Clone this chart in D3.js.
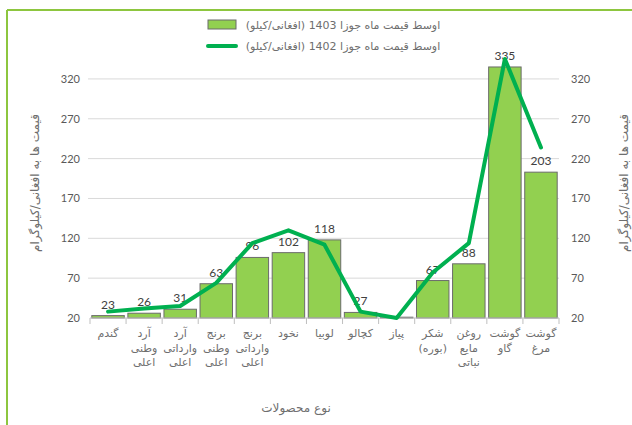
<!DOCTYPE html>
<html>
<head>
<meta charset="utf-8">
<script src="https://cdn.jsdelivr.net/npm/d3@7"></script>
<style>
  body { margin: 0; background: #fff; }
  text { font-family: "Lato", "DejaVu Sans", sans-serif; }
  .ar { font-family: "DejaVu Sans", sans-serif; direction: rtl; unicode-bidi: embed; }
</style>
</head>
<body>
<div class="chart"></div>
<script>
// categories, left to right (each row is one line of the tick label)
const categories = [
  ["گندم"],
  ["آرد", "وطنی", "اعلی"],
  ["آرد", "وارداتی", "اعلی"],
  ["برنج", "وطنی", "اعلی"],
  ["برنج", "وارداتی", "اعلی"],
  ["نخود"],
  ["لوبیا"],
  ["کچالو"],
  ["پیاز"],
  ["شکر", "(بوره)"],
  ["روغن", "مایع", "نباتی"],
  ["گوشت", "گاو"],
  ["گوشت", "مرغ"]
]
const prices1403 = [23, 26, 31, 63, 96, 102, 118, 27, 21, 67, 88, 335, 203]
const prices1402 = [28, 32, 35, 64, 114, 130, 112, 28, 20, 77, 114, 345, 234]
const hiddenLabels = ["پیاز"]
const yTicks = [20, 70, 120, 170, 220, 270, 320]

const legend1403 = "اوسط قیمت ماه جوزا 1403 (افغانی/کیلو)"
const legend1402 = "اوسط قیمت ماه جوزا 1402 (افغانی/کیلو)"
const yTitle = "قیمت ها به افغانی/کیلوگرام"
const xTitle = "نوع محصولات"

const colors = {
  bar: "#92d050",
  barStroke: "#6b6b6b",
  line: "#00b050",
  grid: "#d9d9d9",
  text: "#595959",
  arText: "#6e6e6e",
  frame: "#8dc63f"
}

const width = 632
const height = 425
const margin = { top: 60, right: 73, bottom: 107, left: 90 }

const data = categories.map((c, i) => ({
  key: c.join(" "),
  lines: c,
  v1403: prices1403[i],
  v1402: prices1402[i]
}))

const xScale = d3.scaleBand()
  .domain(data.map(d => d.key))
  .range([margin.left, width - margin.right])
  .paddingInner(0.1)
  .paddingOuter(0.05)

const yScale = d3.scaleLinear()
  .domain([20, 345])
  .range([height - margin.bottom, 59])

const svg = d3.select(".chart")
  .append("svg")
    .attr("width", width)
    .attr("height", height)

svg.append("rect")
    .attr("width", width)
    .attr("height", height)
    .attr("fill", "#fff")

// frame lines (top and left)
svg.append("line")
    .attr("x1", 7).attr("x2", width)
    .attr("y1", 10).attr("y2", 10)
    .attr("stroke", colors.frame).attr("stroke-width", 2)
svg.append("line")
    .attr("x1", 7).attr("x2", 7)
    .attr("y1", 10).attr("y2", height)
    .attr("stroke", colors.frame).attr("stroke-width", 2)

const plotLeft = margin.left
const plotRight = width - margin.right

// gridlines
svg.append("g")
  .selectAll("line")
  .data(yTicks.slice(1))
  .join("line")
    .attr("x1", plotLeft - 2)
    .attr("x2", plotRight)
    .attr("y1", d => yScale(d))
    .attr("y2", d => yScale(d))
    .attr("stroke", colors.grid)

// left and right axis labels
const yAxisLeft = d3.axisLeft(yScale)
  .tickValues(yTicks)
  .tickSize(0)
  .tickPadding(10)
svg.append("g")
    .attr("transform", `translate(${plotLeft},0)`)
    .call(yAxisLeft)
    .call(g => g.select(".domain").remove())
    .call(g => g.selectAll(".tick text")
        .attr("fill", colors.text)
        .style("font-size", "11px"))

const yAxisRight = d3.axisRight(yScale)
  .tickValues(yTicks)
  .tickSize(0)
  .tickPadding(12)
svg.append("g")
    .attr("transform", `translate(${plotRight},0)`)
    .call(yAxisRight)
    .call(g => g.select(".domain").remove())
    .call(g => g.selectAll(".tick text")
        .attr("fill", colors.text)
        .style("font-size", "11px"))

// bars
svg.append("g")
  .selectAll("rect")
  .data(data)
  .join("rect")
    .attr("x", d => xScale(d.key))
    .attr("width", xScale.bandwidth())
    .attr("y", d => yScale(d.v1403))
    .attr("height", d => yScale(20) - yScale(d.v1403))
    .attr("fill", colors.bar)
    .attr("stroke", colors.barStroke)
    .attr("stroke-width", 1)

// x axis line with ticks between categories
const baseY = yScale(20)
const step = xScale.step()
const x0 = plotLeft + xScale.paddingOuter() * step - xScale.paddingInner() * step / 2
svg.append("line")
    .attr("x1", plotLeft).attr("x2", plotRight)
    .attr("y1", baseY).attr("y2", baseY)
    .attr("stroke", "#bfbfbf")
svg.append("g")
  .selectAll("line")
  .data(d3.range(data.length + 1))
  .join("line")
    .attr("x1", i => Math.max(plotLeft, Math.min(plotRight, x0 + i * step)))
    .attr("x2", i => Math.max(plotLeft, Math.min(plotRight, x0 + i * step)))
    .attr("y1", baseY)
    .attr("y2", baseY + 6)
    .attr("stroke", "#bfbfbf")

// category labels
const catLabels = svg.append("g")
  .selectAll("text")
  .data(data)
  .join("text")
    .attr("class", "ar")
    .attr("text-anchor", "middle")
    .attr("fill", colors.arText)
    .style("font-size", "11px")
catLabels.selectAll("tspan")
  .data(d => d.lines.map(l => ({ l, x: xScale(d.key) + xScale.bandwidth() / 2 })))
  .join("tspan")
    .attr("x", t => t.x)
    .attr("y", (t, i) => baseY + 19 + i * 14.5)
    .text(t => t.l)

// bar value labels
svg.append("g")
  .selectAll("text")
  .data(data.filter(d => !hiddenLabels.includes(d.key)))
  .join("text")
    .attr("x", d => xScale(d.key) + xScale.bandwidth() / 2)
    .attr("y", d => yScale(d.v1403) - 7)
    .attr("text-anchor", "middle")
    .attr("fill", "#404040")
    .style("font-size", "12px")
    .text(d => d.v1403)

// 1402 line
const lineGenerator = d3.line()
  .x(d => xScale(d.key) + xScale.bandwidth() / 2)
  .y(d => yScale(d.v1402))

svg.append("path")
    .attr("d", lineGenerator(data))
    .attr("fill", "none")
    .attr("stroke", colors.line)
    .attr("stroke-width", 4)
    .attr("stroke-linecap", "round")
    .attr("stroke-linejoin", "round")

// legend
const legend = svg.append("g")
legend.append("rect")
    .attr("x", 208).attr("y", 20)
    .attr("width", 28).attr("height", 9)
    .attr("fill", colors.bar)
    .attr("stroke", colors.barStroke)
legend.append("line")
    .attr("x1", 208).attr("x2", 236)
    .attr("y1", 46).attr("y2", 46)
    .attr("stroke", colors.line)
    .attr("stroke-width", 4)
    .attr("stroke-linecap", "round")
legend.append("text")
    .attr("class", "ar")
    .attr("x", 343).attr("y", 29)
    .attr("text-anchor", "middle")
    .attr("fill", colors.arText)
    .style("font-size", "11px")
    .text(legend1403)
legend.append("text")
    .attr("class", "ar")
    .attr("x", 343).attr("y", 50)
    .attr("text-anchor", "middle")
    .attr("fill", colors.arText)
    .style("font-size", "11px")
    .text(legend1402)

// axis titles
svg.append("text")
    .attr("class", "ar")
    .attr("transform", "translate(39,183) rotate(-90)")
    .attr("text-anchor", "middle")
    .attr("fill", colors.arText)
    .style("font-size", "12px")
    .text(yTitle)
svg.append("text")
    .attr("class", "ar")
    .attr("transform", "translate(628,183) rotate(-90)")
    .attr("text-anchor", "middle")
    .attr("fill", colors.arText)
    .style("font-size", "12px")
    .text(yTitle)
svg.append("text")
    .attr("class", "ar")
    .attr("x", 296).attr("y", 412)
    .attr("text-anchor", "middle")
    .attr("fill", colors.arText)
    .style("font-size", "12px")
    .text(xTitle)
</script>
</body>
</html>
